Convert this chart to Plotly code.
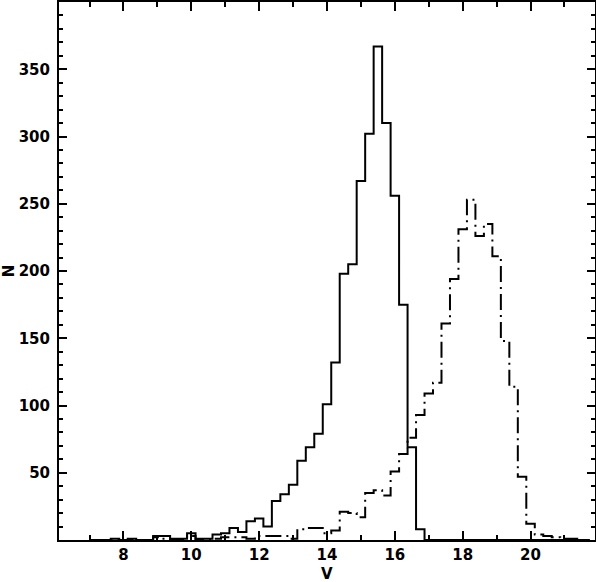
import plotly.graph_objects as go

# bin centres (V magnitude), bin width 0.25
v_bins = [7.0, 7.25, 7.5, 7.75, 8.0, 8.25, 8.5, 8.75, 9.0, 9.25, 9.5, 9.75,
          10.0, 10.25, 10.5, 10.75, 11.0, 11.25, 11.5, 11.75, 12.0, 12.25, 12.5, 12.75,
          13.0, 13.25, 13.5, 13.75, 14.0, 14.25, 14.5, 14.75, 15.0, 15.25, 15.5, 15.75,
          16.0, 16.25, 16.5, 16.75, 17.0, 17.25, 17.5, 17.75, 18.0, 18.25, 18.5, 18.75,
          19.0, 19.25, 19.5, 19.75, 20.0, 20.25, 20.5, 20.75, 21.0, 21.25, 21.5, 21.75]

# solid histogram
n_solid = [0, 0, 0, 1, 0, 1, 0, 0, 3, 3, 1, 1,
           5, 1, 1, 4, 5, 9, 6, 14, 16, 10, 29, 34,
           41, 59, 69, 79, 101, 132, 198, 205, 267, 302, 367, 310,
           256, 175, 69, 8, 0, 0, 0, 0, 0, 0, 0, 0,
           0, 0, 0, 0, 0, 0, 0, 0, 0, 0, 0, 0]

# dash-dot histogram
n_dashdot = [0, 0, 0, 0, 0, 0, 0, 0, 2, 1, 0, 0,
             3, 0, 0, 1, 2, 2, 2, 1, 3, 3, 3, 3,
             1, 8, 9, 9, 5, 7, 21, 20, 17, 35, 37, 33,
             51, 64, 76, 93, 109, 117, 161, 194, 231, 253, 226, 235,
             211, 148, 114, 47, 12, 4, 3, 2, 1, 1, 0, 0]

x_ticks = [8, 10, 12, 14, 16, 18, 20]
y_ticks = [50, 100, 150, 200, 250, 300, 350]

fig = go.Figure()
fig.add_trace(go.Scatter(x=v_bins, y=n_solid, mode='lines', line_shape='hvh',
                         line=dict(color='black', width=2)))
fig.add_trace(go.Scatter(x=v_bins, y=n_dashdot, mode='lines', line_shape='hvh',
                         line=dict(color='black', width=2, dash='16px,5px,2px,5px')))

tick_font = dict(family='DejaVu Sans', size=15, color='black', weight='bold')

fig.update_xaxes(range=[6.1, 21.9], tickvals=x_ticks, ticks='inside', ticklen=9,
                 tickwidth=2, tickcolor='black', showline=True, linewidth=2,
                 linecolor='black', mirror='allticks', showgrid=False, zeroline=False,
                 tickfont=tick_font, automargin=False,
                 minor=dict(dtick=1, tick0=0, ticks='inside', ticklen=5, tickwidth=2,
                            tickcolor='black', showgrid=False))
fig.update_yaxes(range=[0, 400], tickvals=y_ticks, ticks='inside', ticklen=8,
                 tickwidth=2, tickcolor='black', showline=True, linewidth=2,
                 linecolor='black', mirror='allticks', showgrid=False, zeroline=False,
                 tickfont=tick_font, automargin=False, ticklabelstandoff=4,
                 minor=dict(dtick=10, tick0=0, ticks='inside', ticklen=4, tickwidth=2,
                            tickcolor='black', showgrid=False))

# axis titles placed as annotations so the plot frame does not move
fig.add_annotation(text='V', xref='paper', yref='paper', x=0.5, y=-0.063,
                   showarrow=False, font=tick_font, xanchor='center', yanchor='middle')
fig.add_annotation(text='N', xref='paper', yref='paper', x=-0.093, y=0.5,
                   showarrow=False, font=tick_font, textangle=-90,
                   xanchor='center', yanchor='middle')

fig.update_layout(width=596, height=582, showlegend=False,
                  margin=dict(l=59, r=1, t=2, b=42),
                  plot_bgcolor='white', paper_bgcolor='white')

# drop the default page margin so the figure sits at the window's corner
fig.write_html("out.html", config={'displayModeBar': False},
               post_script="document.body.style.margin='0';")
